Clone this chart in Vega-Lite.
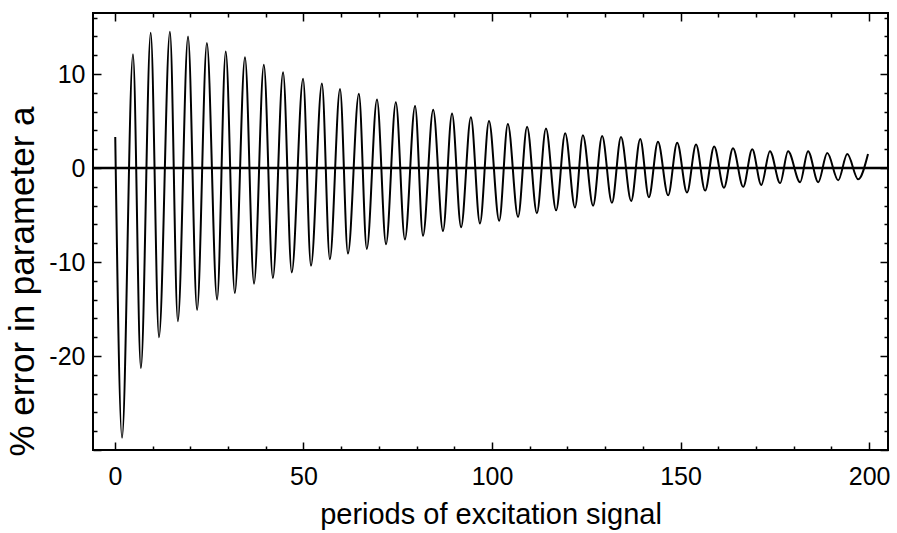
{
  "$schema": "https://vega.github.io/schema/vega-lite/v6.json",
  "width": 795,
  "height": 437,
  "autosize": {"type": "none"},
  "padding": {"left": 93, "top": 13, "right": 9, "bottom": 83},
  "background": "white",
  "config": {
    "view": {"stroke": "black", "strokeWidth": 2},
    "axis": {
      "domain": false,
      "grid": false,
      "tickColor": "black",
      "tickWidth": 1.5,
      "labelColor": "black",
      "labelFont": "Liberation Sans",
      "labelFontSize": 25,
      "titleFont": "Liberation Sans",
      "titleFontWeight": "normal",
      "titleColor": "black"
    }
  },
  "resolve": {"axis": {"x": "independent", "y": "independent"}},
  "layer": [
    {
      "data": {
        "values": [
          {"period": 0.1, "error": 3.3},
          {"period": 1.9, "error": -28.7},
          {"period": 4.8, "error": 12.1},
          {"period": 6.9, "error": -21.3},
          {"period": 9.5, "error": 14.4},
          {"period": 11.7, "error": -18.0},
          {"period": 14.6, "error": 14.5},
          {"period": 16.7, "error": -16.3},
          {"period": 19.4, "error": 14.0},
          {"period": 21.8, "error": -15.1},
          {"period": 24.4, "error": 13.3},
          {"period": 27.1, "error": -14.0},
          {"period": 29.4, "error": 12.4},
          {"period": 31.8, "error": -13.3},
          {"period": 34.5, "error": 11.8},
          {"period": 36.9, "error": -12.3},
          {"period": 39.5, "error": 11.0},
          {"period": 41.9, "error": -11.7},
          {"period": 44.6, "error": 10.2},
          {"period": 46.9, "error": -11.1},
          {"period": 49.9, "error": 9.5},
          {"period": 52.0, "error": -10.4},
          {"period": 54.9, "error": 9.0},
          {"period": 57.0, "error": -9.7},
          {"period": 59.7, "error": 8.4},
          {"period": 61.8, "error": -9.1},
          {"period": 64.7, "error": 7.9},
          {"period": 66.8, "error": -8.6},
          {"period": 69.5, "error": 7.3},
          {"period": 71.9, "error": -8.1},
          {"period": 74.5, "error": 7.0},
          {"period": 76.9, "error": -7.6},
          {"period": 79.6, "error": 6.6},
          {"period": 81.7, "error": -7.2},
          {"period": 84.4, "error": 6.2},
          {"period": 87.0, "error": -6.7},
          {"period": 89.4, "error": 5.8},
          {"period": 91.8, "error": -6.3},
          {"period": 94.4, "error": 5.4},
          {"period": 96.8, "error": -5.9},
          {"period": 99.2, "error": 5.0},
          {"period": 101.9, "error": -5.6},
          {"period": 104.2, "error": 4.7},
          {"period": 106.9, "error": -5.2},
          {"period": 109.3, "error": 4.4},
          {"period": 111.9, "error": -4.8},
          {"period": 114.3, "error": 4.2},
          {"period": 117.0, "error": -4.5},
          {"period": 119.4, "error": 3.7},
          {"period": 122.0, "error": -4.2},
          {"period": 124.1, "error": 3.5},
          {"period": 126.8, "error": -4.0},
          {"period": 129.2, "error": 3.4},
          {"period": 131.8, "error": -3.7},
          {"period": 134.2, "error": 3.3},
          {"period": 136.9, "error": -3.5},
          {"period": 139.3, "error": 3.1},
          {"period": 141.6, "error": -3.1},
          {"period": 144.0, "error": 2.8},
          {"period": 146.7, "error": -2.9},
          {"period": 149.1, "error": 2.7},
          {"period": 151.7, "error": -2.6},
          {"period": 154.1, "error": 2.5},
          {"period": 156.5, "error": -2.4},
          {"period": 158.9, "error": 2.3},
          {"period": 161.5, "error": -2.1},
          {"period": 163.9, "error": 2.1},
          {"period": 166.6, "error": -2.0},
          {"period": 169.0, "error": 2.0},
          {"period": 171.4, "error": -1.8},
          {"period": 173.7, "error": 1.8},
          {"period": 176.4, "error": -1.6},
          {"period": 178.5, "error": 1.8},
          {"period": 181.7, "error": -1.5},
          {"period": 183.8, "error": 1.8},
          {"period": 186.5, "error": -1.5},
          {"period": 188.9, "error": 1.6},
          {"period": 191.8, "error": -1.3},
          {"period": 194.2, "error": 1.5},
          {"period": 197.1, "error": -1.2},
          {"period": 199.7, "error": 1.5}
        ]
      },
      "mark": {"type": "line", "color": "black", "strokeWidth": 2, "interpolate": "monotone"},
      "encoding": {
        "x": {
          "field": "period",
          "type": "quantitative",
          "scale": {"domain": [-5.8, 205], "nice": false, "zero": false},
          "axis": {
            "orient": "bottom",
            "title": "periods of excitation signal",
            "titleFontSize": 29,
            "titleBaseline": "alphabetic",
            "titleY": 73,
            "values": [0, 10, 20, 30, 40, 50, 60, 70, 80, 90, 100, 110, 120, 130, 140, 150, 160, 170, 180, 190, 200],
            "tickSize": {"condition": {"test": "datum.value % 50 === 0", "value": -8}, "value": -4},
            "labelPadding": 22,
            "labelExpr": "datum.value % 50 === 0 ? '' + datum.value : ''"
          }
        },
        "y": {
          "field": "error",
          "type": "quantitative",
          "scale": {"domain": [-30, 16.5], "nice": false, "zero": false},
          "axis": {
            "orient": "left",
            "title": "% error in parameter a",
            "titleFontSize": 35,
            "titleBaseline": "alphabetic",
            "titleX": -60,
            "titleY": 268,
            "values": [-30, -28, -26, -24, -22, -20, -18, -16, -14, -12, -10, -8, -6, -4, -2, 0, 2, 4, 6, 8, 10, 12, 14, 16],
            "tickSize": {"condition": {"test": "datum.value % 10 === 0", "value": -8}, "value": -4},
            "labelPadding": 16,
            "labelExpr": "datum.value % 10 === 0 && datum.value > -30 ? '' + datum.value : ''"
          }
        }
      }
    },
    {
      "data": {"values": [{"level": 0, "start": -5.8, "end": 205}]},
      "mark": {"type": "rule", "color": "black", "strokeWidth": 2.5},
      "encoding": {
        "x": {
          "field": "start",
          "type": "quantitative",
          "scale": {"domain": [-5.8, 205], "nice": false, "zero": false},
          "axis": {
            "orient": "top",
            "title": null,
            "labels": false,
            "values": [0, 10, 20, 30, 40, 50, 60, 70, 80, 90, 100, 110, 120, 130, 140, 150, 160, 170, 180, 190, 200],
            "tickSize": {"condition": {"test": "datum.value % 50 === 0", "value": -8}, "value": -4}
          }
        },
        "x2": {"field": "end"},
        "y": {
          "field": "level",
          "type": "quantitative",
          "scale": {"domain": [-30, 16.5], "nice": false, "zero": false},
          "axis": {
            "orient": "right",
            "title": null,
            "labels": false,
            "values": [-30, -28, -26, -24, -22, -20, -18, -16, -14, -12, -10, -8, -6, -4, -2, 0, 2, 4, 6, 8, 10, 12, 14, 16],
            "tickSize": {"condition": {"test": "datum.value % 10 === 0", "value": -8}, "value": -4}
          }
        }
      }
    }
  ]
}
